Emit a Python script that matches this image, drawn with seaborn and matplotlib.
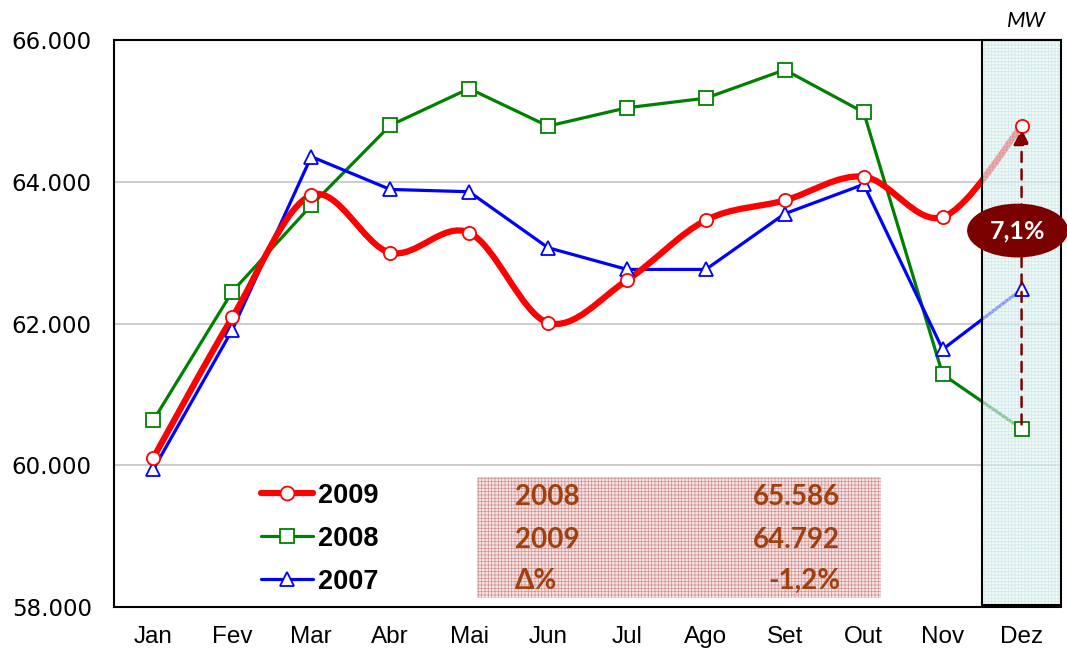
import numpy as np
import pandas as pd
import matplotlib
matplotlib.use("Agg")
import matplotlib.pyplot as plt
import seaborn as sns
from matplotlib.path import Path
from matplotlib.patches import PathPatch, Rectangle, Ellipse
from matplotlib.lines import Line2D

# monthly peak load (MW)
months = ['Jan', 'Fev', 'Mar', 'Abr', 'Mai', 'Jun', 'Jul', 'Ago', 'Set', 'Out', 'Nov', 'Dez']
mw_2009 = [60108, 62090, 63816, 63003, 63286, 62014, 62615, 63463, 63742, 64076, 63506, 64792]
mw_2008 = [60638, 62455, 63671, 64801, 65321, 64791, 65050, 65186, 65586, 64985, 61285, 60518]
mw_2007 = [59944, 61915, 64360, 63897, 63864, 63074, 62767, 62767, 63554, 63968, 61638, 62485]

# summary box
tab_labels = ['2008', '2009', 'Δ%']
tab_values = ['65.586', '64.792', '-1,2%']
growth_label = '7,1%'

sns.set_style('white')
plt.rcParams['font.family'] = ['DejaVu Sans']
plt.rcParams['hatch.linewidth'] = 0.5
plt.rcParams['text.color'] = 'black'
plt.rcParams['xtick.color'] = 'black'
plt.rcParams['ytick.color'] = 'black'
plt.rcParams['xtick.labelcolor'] = 'black'
plt.rcParams['ytick.labelcolor'] = 'black'

pos = list(range(len(months)))
df = pd.DataFrame({
    'pos': pos * 3,
    'ano': ['2009'] * 12 + ['2008'] * 12 + ['2007'] * 12,
    'mw': mw_2009 + mw_2008 + mw_2007,
})
colors = {'2009': '#FF0000', '2008': '#008000', '2007': '#0000FF'}
markers = {'2009': 'o', '2008': 's', '2007': '^'}

fig = plt.figure(figsize=(10.67, 6.51), dpi=100)
ax = fig.add_axes([0.1068, 0.0676, 0.8876, 0.8702])

# straight lines for 2008 / 2007
sns.lineplot(data=df[df['ano'] != '2009'], x='pos', y='mw', hue='ano',
             palette=colors, linewidth=2.3, legend=False, ax=ax, zorder=2)

# smoothed line for 2009 (bezier through the monthly values)
def smooth_path(xs, ys):
    pts = np.column_stack([xs, ys]).astype(float)
    n = len(pts)
    verts = [pts[0]]
    codes = [Path.MOVETO]
    for i in range(n - 1):
        p0 = pts[i - 1] if i > 0 else pts[i]
        p1, p2 = pts[i], pts[i + 1]
        p3 = pts[i + 2] if i + 2 < n else pts[i + 1]
        verts += [p1 + (p2 - p0) / 6, p2 - (p3 - p1) / 6, p2]
        codes += [Path.CURVE4] * 3
    return Path(verts, codes)

ax.add_patch(PathPatch(smooth_path(pos, mw_2009), facecolor='none',
                       edgecolor=colors['2009'], lw=4.5, zorder=2.5,
                       capstyle='round', joinstyle='round'))

# shaded December column
dez = len(months) - 1
ax.add_patch(Rectangle((dez - 0.5, 58030), 1.0, 7970, facecolor='#eaf6f6',
                       edgecolor='#b8dcdc', hatch='+++++', lw=0, alpha=0.6,
                       zorder=3, clip_on=False))
ax.add_patch(Rectangle((dez - 0.5, 58030), 1.0, 7970, facecolor='none',
                       edgecolor='black', lw=1.5, zorder=3.1, clip_on=False))

# markers on top
for ano, vals in [('2008', mw_2008), ('2007', mw_2007), ('2009', mw_2009)]:
    ax.plot(pos, vals, ls='none', marker=markers[ano], ms=9.5 if ano != '2007' else 10.5,
            mfc='white', mec=colors[ano], mew=1.3, zorder=4)

# growth arrow Dez 2008 -> Dez 2009
ax.annotate('', xy=(dez, mw_2009[dez] - 40), xytext=(dez, mw_2008[dez] + 60),
            arrowprops=dict(arrowstyle='-|>', color='#800000', lw=1.8,
                            linestyle=(0, (4, 3)), mutation_scale=24, shrinkA=0, shrinkB=0),
            zorder=5)
ax.add_patch(Ellipse((dez - 0.05, 63316), 1.28, 760, facecolor='#7B0000',
                     edgecolor='none', zorder=6, clip_on=False))
ax.text(dez - 0.05, 63316, growth_label, color='white', ha='center', va='center',
        fontsize=18, fontweight='bold', family='Lato', zorder=7)

ax.text(dez + 0.06, 66140, 'MW', ha='center', va='bottom', fontsize=15.5,
        style='italic', family='Lato', clip_on=False)

# axes
ax.set_xlim(-0.5, 11.5)
ax.set_ylim(58000, 66000)
ax.set_xticks(pos)
ax.set_xticklabels(months, family='Liberation Sans', fontsize=17.5)
ax.set_xticks(np.arange(-0.5, 12, 1), minor=True)
ax.tick_params(axis='x', which='major', length=0, pad=14)
ax.tick_params(axis='x', which='minor', length=7, width=1.5, direction='out', color='black')
yt = list(range(58000, 66001, 2000))
ax.set_yticks(yt)
ax.set_yticklabels([f'{v:,}'.replace(',', '.') for v in yt], fontsize=16.5)
ax.tick_params(axis='y', length=9, width=1.5, direction='out', pad=7, color='black')
ax.set_xlabel('')
ax.set_ylabel('')
ax.grid(axis='y', color='#c4c4c4', lw=1.2)
ax.set_axisbelow(True)
for s in ['left', 'bottom', 'top']:
    ax.spines[s].set_color('black')
    ax.spines[s].set_linewidth(1.5)
ax.spines['right'].set_visible(False)

# legend
handles = [Line2D([], [], color=colors[a], lw=4.5 if a == '2009' else 2.3,
                  marker=markers[a], ms=10, mfc='white', mec=colors[a], mew=1.3)
           for a in ['2009', '2008', '2007']]
leg = ax.legend(handles, ['2009', '2008', '2007'], loc='upper left',
                bbox_to_anchor=(0.13, 0.262), frameon=False, handlelength=1.9,
                handletextpad=0.2, labelspacing=0.62,
                prop={'family': 'Liberation Sans', 'weight': 'bold', 'size': 19.5})
for t in leg.get_texts():
    t.set_color('black')

# summary table
ax.add_patch(Rectangle((0.383, 0.016), 0.427, 0.2135, transform=ax.transAxes,
                       facecolor='#f5e2e2', edgecolor='#d29393', hatch='+++++',
                       lw=0, zorder=3))
row_y = [0.194, 0.118, 0.046]
for lab, val, yy in zip(tab_labels, tab_values, row_y):
    ax.text(0.423, yy, lab, transform=ax.transAxes, ha='left', va='center',
            color='#A0400F', fontsize=20, fontweight='bold', family='Lato', zorder=4)
    ax.text(0.767, yy, val, transform=ax.transAxes, ha='right', va='center',
            color='#A0400F', fontsize=20, fontweight='bold', family='Lato', zorder=4)

fig.savefig('out.png', dpi=100)
